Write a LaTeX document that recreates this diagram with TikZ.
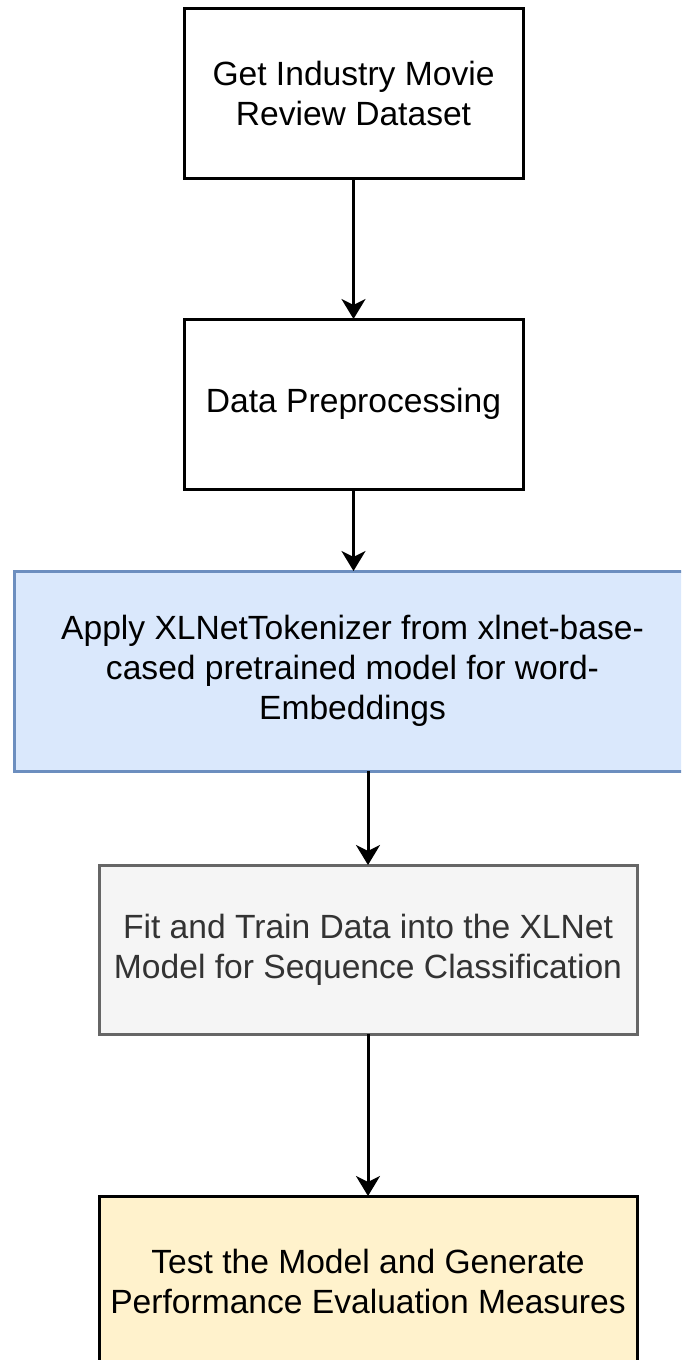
\documentclass[tikz,border=0pt]{standalone}
\usepackage{fontspec}
\setmainfont{Liberation Sans}
\usetikzlibrary{arrows.meta}
\definecolor{bluefill}{HTML}{DAE8FC}
\definecolor{bluedraw}{HTML}{6C8EBF}
\definecolor{grayfill}{HTML}{F5F5F5}
\definecolor{graydraw}{HTML}{666666}
\definecolor{graytext}{HTML}{333333}
\definecolor{yellowfill}{HTML}{FFF2CC}
\tikzset{
  stepbox/.style={draw=black, line width=1.5pt, fill=white, rectangle, align=center,
    inner sep=0pt, outer sep=0pt, font=\fontsize{16.8}{20}\selectfont},
  flow/.style={draw=black, line width=1.5pt, -{Stealth[length=10pt, width=12pt, inset=3pt]}}
}
\begin{document}
\begin{tikzpicture}[x=0.5pt, y=-0.5pt]
\clip (0,0) rectangle (681,1360);
\fill[white] (0,0) rectangle (681,1360);
\node[stepbox, minimum width=169.5pt, minimum height=85pt] (b1) at (353.5,93)
  {Get Industry Movie\\Review Dataset};
\node[stepbox, minimum width=169.5pt, minimum height=85pt] (b2) at (353.5,404)
  {Data Preprocessing};
\node[stepbox, draw=bluedraw, fill=bluefill, minimum width=338.5pt, minimum height=100pt] (b3) at (352.5,671)
  {Apply XLNetTokenizer from xlnet-base-\\cased pretrained model for word-\\Embeddings};
\node[stepbox, draw=graydraw, fill=grayfill, text=graytext, minimum width=269pt, minimum height=84.5pt] (b4) at (368,949.5)
  {Fit and Train Data into the XLNet\\Model for Sequence Classification};
\node[stepbox, fill=yellowfill, minimum width=269pt, minimum height=85pt] (b5) at (368,1281)
  {Test the Model and Generate\\Performance Evaluation Measures};
\draw[flow] (b1.south) -- (b2.north);
\draw[flow] (b2.south) -- (b3.north -| b2.south);
\draw[flow] (b3.south -| b4.north) -- (b4.north);
\draw[flow] (b4.south) -- (b5.north);
\end{tikzpicture}
\end{document}
